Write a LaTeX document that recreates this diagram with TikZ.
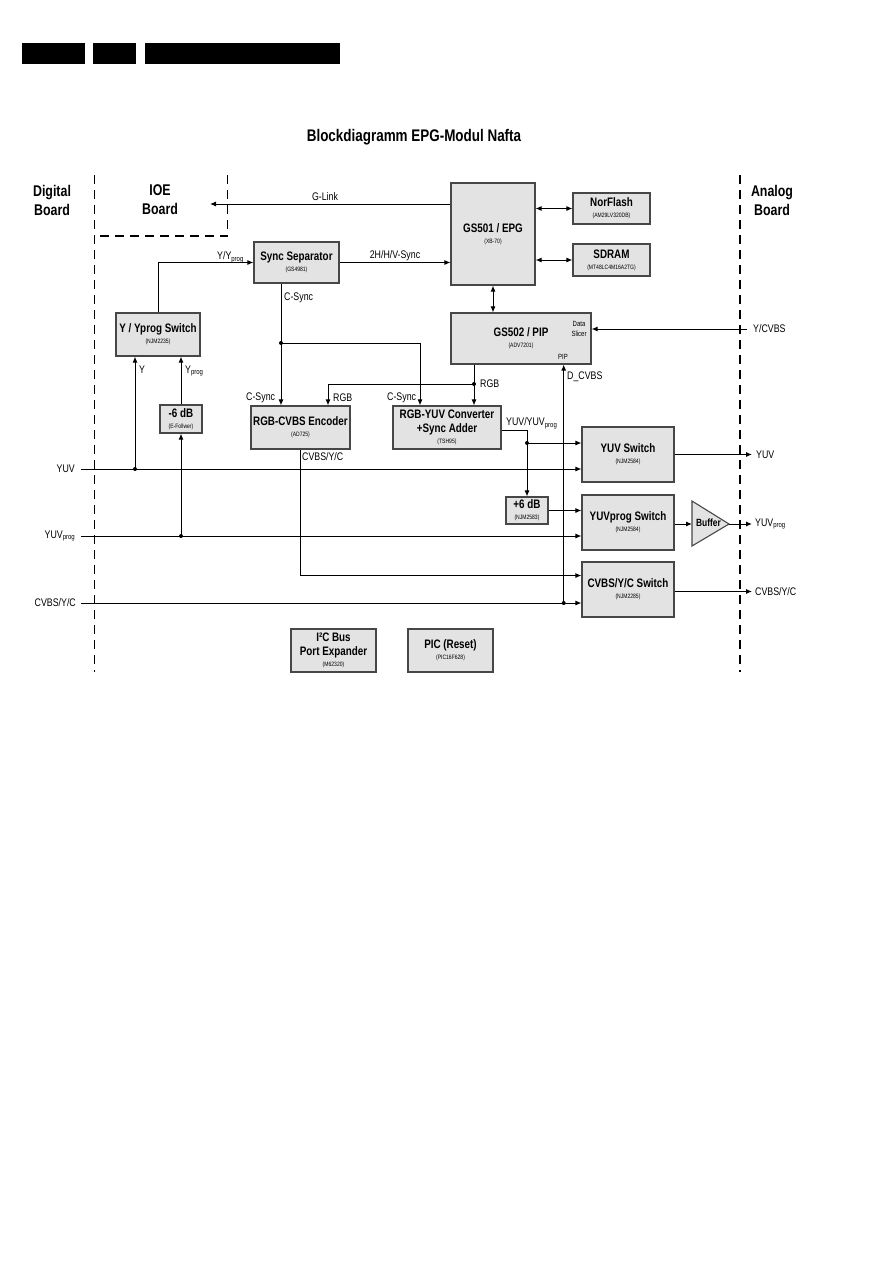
\documentclass[tikz,border=0pt]{standalone}
\usepackage{fontspec}
\setmainfont{Liberation Sans}[FakeStretch=0.8]
\usetikzlibrary{arrows.meta,calc}
\newcommand{\sub}[1]{\raisebox{-1.6pt}{\fontsize{7.5}{8}\selectfont #1}}
\newcommand{\prt}[1]{{\normalfont\fontsize{6.3}{7}\selectfont #1}}
\newcommand{\bx}[2]{#1\\[-2pt]\prt{#2}}
\begin{document}
\begin{tikzpicture}[x=1pt,y=-1pt,
  blk/.style={draw=black!72,fill=black!11,line width=1.1pt,inner sep=0pt,align=center,
    font=\bfseries\fontsize{12.3}{13}\selectfont},
  arr/.style={line width=1pt,-{Latex[length=6pt,width=5pt]}},
  darr/.style={line width=1pt,{Latex[length=6pt,width=5pt]}-{Latex[length=6pt,width=5pt]}},
  ln/.style={line width=1pt},
  dsh/.style={line width=1.1pt,dash pattern=on 9pt off 6pt},
  lbl/.style={inner sep=0pt,font=\fontsize{11}{12}\selectfont},
  big/.style={inner sep=0pt,align=center,font=\bfseries\fontsize{15.5}{19}\selectfont},
  dotc/.style={circle,fill=black,inner sep=0pt,minimum size=4pt}]
\useasboundingbox (0,0) rectangle (893,1263);
% header bars
\fill (22,43) rectangle (85,64);
\fill (93,43) rectangle (136,64);
\fill (145,43) rectangle (340,64);
% title
\node[inner sep=0pt,font=\bfseries\fontsize{16.8}{18}\selectfont] (title) at (414,137) {Blockdiagramm EPG-Modul Nafta};
% region labels
\node[big] (dig) at (52,200) {Digital\\Board};
\node[big] (ioe) at (160,200) {IOE\\Board};
\node[big] (ana) at (772,200) {Analog\\Board};
% dashed borders
\draw[dsh] (94.7,175) -- (94.7,672);
\draw[dsh] (227.7,175) -- (227.7,236) -- (94.7,236);
\draw[dsh] (740,175) -- (740,672);
% boxes
\node[blk,minimum width=84pt,minimum height=102pt] (gs501) at (493,234) {\bx{GS501 / EPG}{(XB-70)}};
\node[blk,minimum width=77pt,minimum height=31pt] (nor) at (611.5,208.5) {\bx{NorFlash}{(AM29LV320DB)}};
\node[blk,minimum width=77pt,minimum height=32pt] (sdram) at (611.5,260) {\bx{SDRAM}{(MT48LC4M16A2TG)}};
\node[blk,minimum width=85pt,minimum height=41pt] (sync) at (296.5,262.5) {\bx{Sync Separator}{(GS4981)}};
\node[blk,minimum width=84pt,minimum height=43pt] (yys) at (158,334.5) {\bx{Y / Yprog Switch}{(NJM2235)}};
\node[blk,minimum width=42pt,minimum height=28pt] (m6) at (181,419) {\bx{-6 dB}{(E-Follwer)}};
\node[blk,minimum width=99pt,minimum height=43pt] (enc) at (300.5,427.5) {\bx{RGB-CVBS Encoder}{(AD725)}};
\node[blk,minimum width=140pt,minimum height=51pt] (gs502) at (521,338.5) {\bx{GS502 / PIP}{(ADV7201)}};
\node[blk,minimum width=108pt,minimum height=43pt] (conv) at (447,427.5) {RGB-YUV Converter\\[0.5pt]+Sync Adder\\[-2pt]\prt{(TSH95)}};
\node[blk,minimum width=92pt,minimum height=55pt] (yuvs) at (628,454.5) {\bx{YUV Switch}{(NJM2584)}};
\node[blk,minimum width=42pt,minimum height=27pt] (p6) at (527,510.5) {\bx{+6 dB}{(NJM2583)}};
\node[blk,minimum width=92pt,minimum height=55pt] (yps) at (628,522.5) {\bx{YUVprog Switch}{(NJM2584)}};
\node[blk,minimum width=92pt,minimum height=55pt] (cvs) at (628,589.5) {\bx{CVBS/Y/C Switch}{(NJM2285)}};
\node[blk,minimum width=85pt,minimum height=43pt] (i2c) at (333.5,650.5) {I²C Bus\\[1pt]Port Expander\\[-2pt]\prt{(M62320)}};
\node[blk,minimum width=85pt,minimum height=43pt] (pic) at (450.5,650.5) {\bx{PIC (Reset)}{(PIC16F628)}};
% buffer triangle
\coordinate (bufL) at (692,524);
\coordinate (bufT) at (729,524);
\draw[draw=black!72,fill=black!11,line width=1.1pt] (692,501) -- (bufT) -- (692,546) -- cycle;
\node[inner sep=0pt,font=\bfseries\fontsize{10.5}{12}\selectfont] (buf) at (708.5,523) {Buffer};
% small labels in GS502
\node[inner sep=0pt,align=center,font=\fontsize{7.5}{9.5}\selectfont] (dsl) at (579,329) {Data\\Slicer};
\node[inner sep=0pt,font=\fontsize{7.5}{9}\selectfont] (pip) at (563,357) {PIP};
% coordinates
\coordinate (gl) at (210,204);
\coordinate (cs) at (281,343);
\coordinate (cs2) at (420,343);
\coordinate (rg) at (474,384);
\coordinate (rg2) at (328,384);
\coordinate (ycv) at (747,329);
\coordinate (dc) at (563.7,603);
\coordinate (yuvin) at (81,469);
\coordinate (ydot) at (135,469);
\coordinate (ypin) at (81,536);
\coordinate (ypdot) at (181,536);
\coordinate (cvin) at (81,603);
\coordinate (ec) at (300.5,575.5);
\coordinate (cv1) at (527,430);
\coordinate (yd) at (527,443);
\coordinate (yuvout) at (752,454.5);
\coordinate (ypout) at (752,524);
\coordinate (cvout) at (752,591.5);
% connectors
\draw[arr] (gs501.west |- gl) -- (gl);
\draw[darr] (gs501.east |- nor) -- (nor.west);
\draw[darr] (gs501.east |- sdram) -- (sdram.west);
\draw[arr] (sync.east) -- (gs501.west |- sync.east);
\draw[arr] (yys.north) |- (sync.west);
\draw[arr] (sync.south -| cs) -- (enc.north -| cs);
\draw[arr] (cs) -- (cs2) -- (conv.north -| cs2);
\draw[darr] (gs501.south) -- (gs502.north -| gs501.south);
\draw[arr] (gs502.south -| rg) -- (conv.north -| rg);
\draw[arr] (rg) -- (rg2) -- (enc.north -| rg2);
\draw[arr] (ycv) -- (gs502.east |- ycv);
\draw[arr] (dc) -- (gs502.south -| dc);
\draw[arr] (yuvin) -- (yuvs.west |- yuvin);
\draw[arr] (ydot) -- (yys.south -| ydot);
\draw[arr] (ypin) -- (yps.west |- ypin);
\draw[arr] (ypdot) -- (m6.south);
\draw[arr] (m6.north) -- (yys.south -| m6.north);
\draw[arr] (cvin) -- (cvs.west |- cvin);
\draw[arr] (enc.south) -- (ec) -- (cvs.west |- ec);
\draw[ln] (conv.east |- cv1) -- (cv1);
\draw[arr] (cv1) -- (p6.north);
\draw[arr] (yd) -- (yuvs.west |- yd);
\draw[arr] (p6.east) -- (yps.west |- p6.east);
\draw[arr] (yuvs.east) -- (yuvout);
\draw[arr] (yps.east |- bufL) -- (bufL);
\draw[arr] (bufT) -- (ypout);
\draw[arr] (cvs.east |- cvout) -- (cvout);
% dots
\node[dotc] (d1) at (cs) {};
\node[dotc] (d2) at (rg) {};
\node[dotc] (d3) at (dc) {};
\node[dotc] (d4) at (ydot) {};
\node[dotc] (d5) at (ypdot) {};
\node[dotc] (d6) at (yd) {};
% labels
\node[lbl] (l1) at (325,197) {G-Link};
\node[lbl] (l2) at (395,256) {2H/H/V-Sync};
\node[lbl,anchor=west] (l3) at (217,257) {Y/Y\sub{prog}};
\node[lbl,anchor=west] (l4) at (284,298) {C-Sync};
\node[lbl,anchor=west] (l5) at (139,370) {Y};
\node[lbl,anchor=west] (l6) at (185,371) {Y\sub{prog}};
\node[lbl,anchor=west] (l7) at (246,398) {C-Sync};
\node[lbl,anchor=west] (l8) at (333,398) {RGB};
\node[lbl,anchor=west] (l9) at (387,398) {C-Sync};
\node[lbl,anchor=west] (l10) at (480,384) {RGB};
\node[lbl,anchor=west] (l11) at (567,377) {D\_CVBS};
\node[lbl,anchor=west] (l12) at (753,329) {Y/CVBS};
\node[lbl,anchor=west] (l13) at (506,423) {YUV/YUV\sub{prog}};
\node[lbl,anchor=west] (l14) at (302,457) {CVBS/Y/C};
\node[lbl,anchor=east] (l15) at (75,469) {YUV};
\node[lbl,anchor=east] (l16) at (75,536) {YUV\sub{prog}};
\node[lbl,anchor=east] (l17) at (76,603) {CVBS/Y/C};
\node[lbl,anchor=west] (l18) at (756,455) {YUV};
\node[lbl,anchor=west] (l19) at (755,524) {YUV\sub{prog}};
\node[lbl,anchor=west] (l20) at (755,592) {CVBS/Y/C};
\end{tikzpicture}
\end{document}
